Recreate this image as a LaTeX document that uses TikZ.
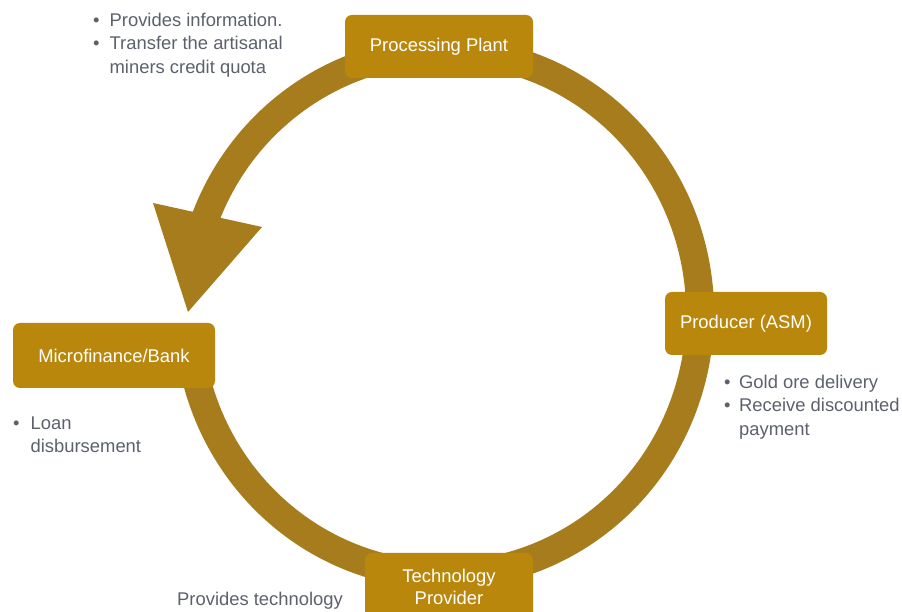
\documentclass[tikz,border=0pt]{standalone}
\usepackage{fontspec}
\setmainfont{Liberation Sans}
\usetikzlibrary{calc}
\definecolor{ringcol}{RGB}{166,124,28}
\definecolor{boxcol}{RGB}{185,135,12}
\definecolor{notecol}{RGB}{92,97,108}
\begin{document}
\begin{tikzpicture}[x=1pt,y=1pt,
  ring/.style={draw=ringcol,line width=28pt},
  headfill/.style={fill=ringcol},
  actor/.style={fill=boxcol,rounded corners=7pt,text=white,align=center,
    font=\fontsize{18.4}{22}\selectfont,inner sep=0pt},
  note/.style={text=notecol,inner sep=0pt,font=\fontsize{18.4}{23.3}\selectfont}]
\useasboundingbox (0,0) rectangle (902,612);
\clip (0,0) rectangle (902,612);
\fill[white] (0,0) rectangle (902,612);
% ring centre
\coordinate (c) at (444,299);
\draw[ring] ($(c)+(160:256pt and 262pt)$) arc[start angle=160,end angle=-170,x radius=256pt,y radius=262pt];
% arrow head
\coordinate (hl) at (153,409);
\coordinate (hr) at (262,385);
\coordinate (tip) at (188,300);
\fill[headfill] (hl) -- (hr) -- (tip) -- cycle;
% actor boxes
\node[actor,minimum width=188pt,minimum height=63pt] (plant) at (439,565.5) {Processing Plant};
\node[actor,minimum width=162pt,minimum height=63pt] (prod) at (746,288.5) {Producer (ASM)};
\node[actor,minimum width=202pt,minimum height=65pt] (bank) at (114,256.5) {Microfinance/Bank};
\node[actor,minimum width=168pt,minimum height=68pt] (tech) at (449,25) {Technology\\Provider};
% notes
\node[note,anchor=base west] (n1) at (93,585.5) {\begin{tabular}[t]{@{}l@{\hspace{10pt}}l@{}}•&Provides information.\\•&Transfer the artisanal\\&miners credit quota\end{tabular}};
\node[note,anchor=base west] (n2) at (724,223.5) {\begin{tabular}[t]{@{}l@{\hspace{8.5pt}}l@{}}•&Gold ore delivery\\•&Receive discounted\\&payment\end{tabular}};
\node[note,anchor=base west] (n3) at (13,182.5) {\begin{tabular}[t]{@{}l@{\hspace{11pt}}l@{}}•&Loan\\&disbursement\end{tabular}};
\node[note,anchor=base west] (n4) at (177,6.5) {Provides technology};
\end{tikzpicture}
\end{document}
